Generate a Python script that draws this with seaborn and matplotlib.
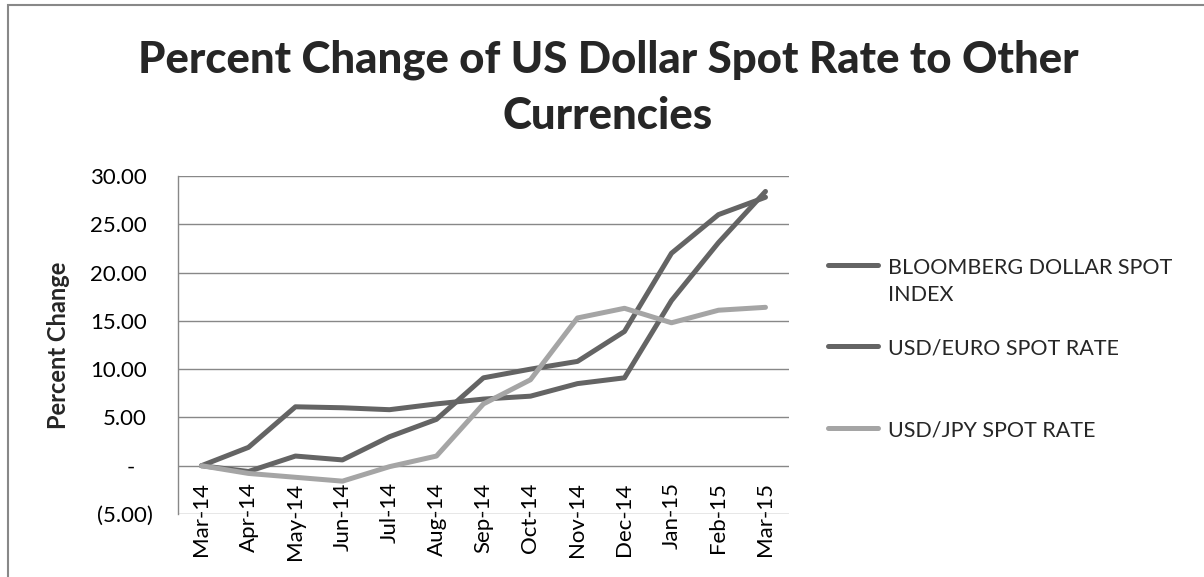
import numpy as np
import pandas as pd
import seaborn as sns
import matplotlib.pyplot as plt
from matplotlib.patches import Rectangle
from matplotlib.ticker import FuncFormatter
from matplotlib.transforms import ScaledTranslation

# Chart data
months = ['Mar-14', 'Apr-14', 'May-14', 'Jun-14', 'Jul-14', 'Aug-14', 'Sep-14',
          'Oct-14', 'Nov-14', 'Dec-14', 'Jan-15', 'Feb-15', 'Mar-15']
bloomberg = [0.0, 1.9, 6.1, 6.0, 5.8, 6.4, 6.9, 7.2, 8.5, 9.1, 17.1, 23.1, 28.4]
usd_euro = [0.0, -0.6, 1.0, 0.6, 3.0, 4.8, 9.1, 10.0, 10.8, 13.9, 22.0, 26.0, 27.8]
usd_jpy = [0.0, -0.8, -1.2, -1.6, -0.1, 1.0, 6.4, 8.9, 15.3, 16.3, 14.8, 16.1, 16.4]
series_names = ['BLOOMBERG DOLLAR SPOT INDEX', 'USD/EURO SPOT RATE', 'USD/JPY SPOT RATE']
legend_labels = ['BLOOMBERG DOLLAR SPOT\nINDEX', 'USD/EURO SPOT RATE\n', 'USD/JPY SPOT RATE\n']
y_ticks = [-5, 0, 5, 10, 15, 20, 25, 30]

df = pd.DataFrame({
    'month': months * 3,
    'pos': list(range(len(months))) * 3,
    'value': bloomberg + usd_euro + usd_jpy,
    'series': np.repeat(series_names, len(months)),
})

sns.set_theme(style='white')
plt.rcParams['font.family'] = ['Lato', 'DejaVu Sans']

fig = plt.figure(figsize=(12.04, 5.77), dpi=100)
ax = fig.add_axes([0.1478, 0.1092, 0.5075, 0.5858])

colors = {series_names[0]: '#646464', series_names[1]: '#646464', series_names[2]: '#a5a5a5'}
sns.lineplot(data=df, x='pos', y='value', hue='series', hue_order=series_names,
             palette=colors, linewidth=3.6, ax=ax, legend=False)
for ln in ax.get_lines():
    ln.set_solid_joinstyle('round')
    ln.set_solid_capstyle('round')

# accounting-style number format
def acct(v, pos):
    if abs(v) < 1e-9:
        return '-'
    if v < 0:
        return f'({abs(v):.2f})'
    return f'{v:.2f}'

ax.set_ylim(-5, 30)
ax.set_yticks(y_ticks)
ax.yaxis.set_major_formatter(FuncFormatter(acct))
ax.set_xlim(-0.5, len(months) - 0.5)
ax.set_xticks(range(len(months)))
ax.set_xticklabels(months)

ax.grid(axis='y', color='#888888', linewidth=1.0)
ax.grid(axis='x', visible=False)
for s in ['top', 'right']:
    ax.spines[s].set_visible(False)
ax.spines['left'].set_color('#888888')
ax.spines['left'].set_linewidth(1.0)
ax.spines['bottom'].set_position(('data', 0))
ax.spines['bottom'].set_visible(False)

ax.tick_params(axis='y', length=0, pad=18, labelsize=16, colors='black')
ax.tick_params(axis='x', length=0, pad=12, labelsize=16, colors='black', labelrotation=90)

# accounting alignment: positives leave room for ")", dash sits further left
for tick, v in zip(ax.yaxis.get_major_ticks(), y_ticks):
    dx = 0 if v < 0 else (-6 if v > 0 else -18)
    tick.label1.set_transform(tick.label1.get_transform() +
                              ScaledTranslation(dx / 100, 0, fig.dpi_scale_trans))

ax.set_xlabel('')
ax.set_ylabel('Percent Change', fontsize=17, fontweight='bold')
ax.yaxis.set_label_coords(-0.176, 0.5)

handles = ax.get_lines()[:3]
leg = ax.legend(handles, legend_labels, loc='upper left', bbox_to_anchor=(1.049, 0.784),
                frameon=False, fontsize=15.5, handlelength=2.33, handletextpad=0.47,
                labelspacing=1.58, borderaxespad=0)
for t in leg.get_texts():
    t.set_linespacing(1.45)
# Excel style: legend markers sit on the first text line
for hp in leg._legend_handle_box.get_children()[0].get_children():
    hp.align = 'top'

fig.text(0.505, 1 - 40 / 577, 'Percent Change of US Dollar Spot Rate to Other\nCurrencies',
         ha='center', va='top', fontsize=31.5, fontweight='black', linespacing=1.47)

# chart frame
fig.patches.append(Rectangle((8 / 1204, -0.1), 1.2, 1.1 - 5 / 577, transform=fig.transFigure,
                             fill=False, edgecolor='#888888', linewidth=1.5))

fig.savefig('out.png', dpi=100)
